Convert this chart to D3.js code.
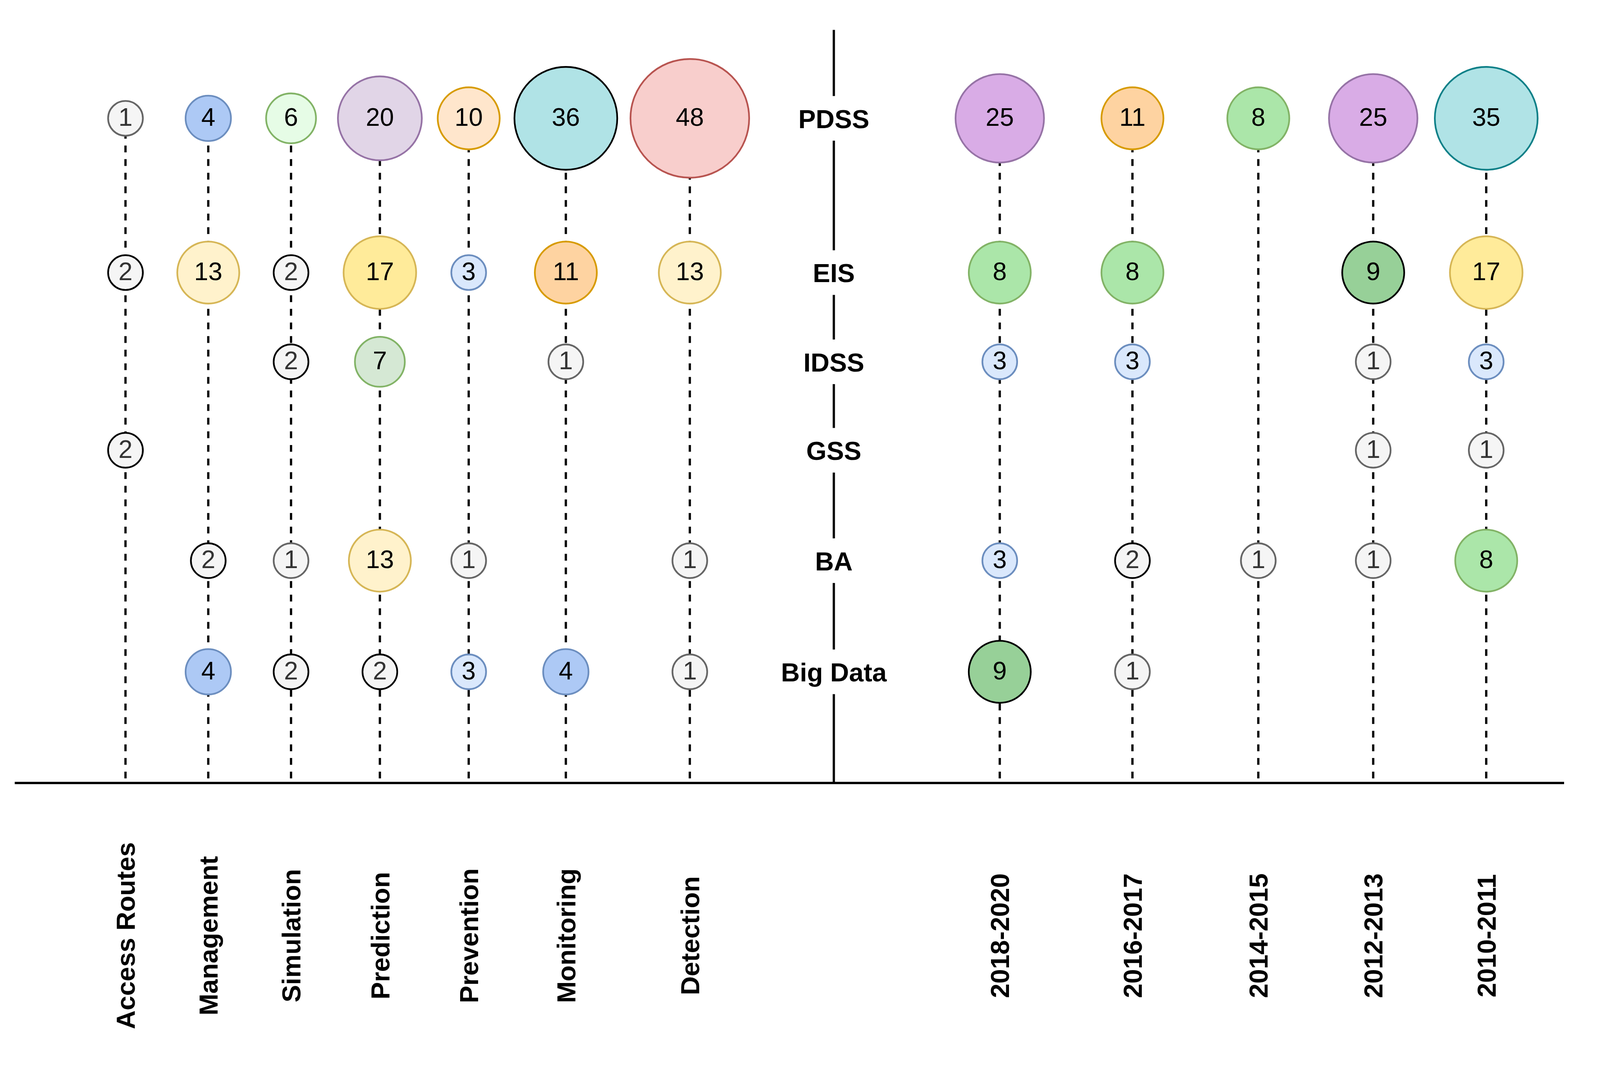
<!DOCTYPE html>
<html>
<head>
<meta charset="utf-8">
<title>DSS types by application area and period</title>
<script src="https://cdn.jsdelivr.net/npm/d3@7/dist/d3.min.js"></script>
<style>
    html, body { margin: 0; padding: 0; background: #ffffff; overflow: hidden; }
    svg { display: block; }
    .stem { stroke: #000; stroke-width: 6; stroke-dasharray: 18, 18; fill: none; }
    .axisLine { stroke: #000; stroke-width: 6; }
    .count { font-family: "Liberation Sans", Arial, sans-serif; font-size: 67px; text-anchor: middle; }
    .systemLabel { font-family: "Liberation Sans", Arial, sans-serif; font-size: 69px; font-weight: bold; text-anchor: middle; }
    .columnLabel { font-family: "Liberation Sans", Arial, sans-serif; font-size: 69px; font-weight: bold; text-anchor: middle; }
</style>
</head>
<body>
<script>
//chart data (null = no studies)
var areas = ["Access Routes", "Management", "Simulation", "Prediction", "Prevention", "Monitoring", "Detection"];
var periods = ["2018-2020", "2016-2017", "2014-2015", "2012-2013", "2010-2011"];
var systems = ["PDSS", "EIS", "IDSS", "GSS", "BA", "Big Data"];

//counts per area, in the order of systems
var areaCounts = [
    [1, 2, null, 2, null, null],    //Access Routes
    [4, 13, null, null, 2, 4],      //Management
    [6, 2, 2, null, 1, 2],          //Simulation
    [20, 17, 7, null, 13, 2],       //Prediction
    [10, 3, null, null, 1, 3],      //Prevention
    [36, 11, 1, null, null, 4],     //Monitoring
    [48, 13, null, null, 1, 1]      //Detection
];

//counts per period, in the order of systems
var periodCounts = [
    [25, 8, 3, null, 3, 9],         //2018-2020
    [11, 8, 3, null, 2, 1],         //2016-2017
    [8, null, null, null, 1, null], //2014-2015
    [25, 9, 1, 1, 1, null],         //2012-2013
    [35, 17, 3, 1, 8, null]         //2010-2011
];

//colour key of every bubble (same shape as the count tables)
var areaStyles = [
    ["gray", "grayDark", null, "grayDark", null, null],
    ["blue", "cream", null, null, "grayDark", "blue"],
    ["mint", "grayDark", "grayDark", null, "gray", "grayDark"],
    ["lavender", "yellow", "sage", null, "cream", "grayDark"],
    ["peach", "lightBlue", null, null, "gray", "lightBlue"],
    ["tealDark", "orange", "gray", null, null, "blue"],
    ["red", "cream", null, null, "gray", "gray"]
];
var periodStyles = [
    ["purple", "green", "lightBlue", null, "lightBlue", "darkGreen"],
    ["orange", "green", "lightBlue", null, "grayDark", "gray"],
    ["green", null, null, null, "gray", null],
    ["purple", "darkGreen", "gray", "gray", "gray", null],
    ["teal", "yellow", "lightBlue", "gray", "green", null]
];

(function () {

    //pseudo-global variables
    var width = 4233,
        height = 2777;

    //palette of fill / stroke / text colours
    var palette = {
        gray:      { fill: "#f5f5f5", stroke: "#666666", text: "#333333" },
        grayDark:  { fill: "#f5f5f5", stroke: "#000000", text: "#333333" },
        blue:      { fill: "#adc9f5", stroke: "#6c8ebf", text: "#000000" },
        lightBlue: { fill: "#dae8fc", stroke: "#6c8ebf", text: "#000000" },
        mint:      { fill: "#e6fce6", stroke: "#82b366", text: "#000000" },
        sage:      { fill: "#d5e8d4", stroke: "#82b366", text: "#000000" },
        green:     { fill: "#abe6a9", stroke: "#82b366", text: "#000000" },
        darkGreen: { fill: "#97d098", stroke: "#000000", text: "#000000" },
        lavender:  { fill: "#e1d5e7", stroke: "#9673a6", text: "#000000" },
        purple:    { fill: "#d9ace6", stroke: "#9673a6", text: "#000000" },
        peach:     { fill: "#ffe6cc", stroke: "#d79b00", text: "#000000" },
        orange:    { fill: "#fed3a1", stroke: "#d79b00", text: "#000000" },
        cream:     { fill: "#fff2cc", stroke: "#d6b656", text: "#000000" },
        yellow:    { fill: "#ffeb9a", stroke: "#d6b656", text: "#000000" },
        tealDark:  { fill: "#b0e3e6", stroke: "#000000", text: "#000000" },
        teal:      { fill: "#b0e3e6", stroke: "#0e8088", text: "#000000" },
        red:       { fill: "#f8cecc", stroke: "#b85450", text: "#000000" }
    };

    //hand placed layout of the diagram
    var areaX = [332, 551, 770, 1005, 1240, 1497, 1825],
        periodX = [2645, 2996, 3329, 3633, 3932],
        systemY = [313, 721, 957, 1191, 1483, 1777],
        centerX = 2206,
        topY = 79,
        baseY = 2071,
        baseLeft = 39,
        baseRight = 4138,
        labelY = 2475;

    window.onload = setChart();

    function setChart() {

        //svg container, scaled to the window width and pinned to the top
        var svg = d3.select("body")
            .append("svg")
            .attr("viewBox", "0 0 " + width + " " + height)
            .attr("preserveAspectRatio", "xMidYMin meet")
            .style("width", "100vw")
            .style("height", "100vh")
            .style("background", "#ffffff");

        //scales: columns, rows and bubble size classes
        var xScale = d3.scaleOrdinal()
            .domain(areas.concat(periods))
            .range(areaX.concat(periodX));

        var yScale = d3.scaleOrdinal()
            .domain(systems)
            .range(systemY);

        var rScale = d3.scaleThreshold()
            .domain([4, 6, 8, 17, 20, 25, 35, 48])
            .range([46, 60, 66, 82, 96, 111, 117, 136, 157]);

        //build one record per column and one per bubble
        var columns = [];
        areas.forEach(function (name, i) {
            columns.push({ name: name, counts: areaCounts[i], styles: areaStyles[i] });
        });
        periods.forEach(function (name, i) {
            columns.push({ name: name, counts: periodCounts[i], styles: periodStyles[i] });
        });

        var bubbles = [];
        columns.forEach(function (col) {
            col.counts.forEach(function (v, j) {
                if (v !== null) {
                    bubbles.push({ column: col.name, system: systems[j], value: v, style: palette[col.styles[j]] });
                }
            });
            //first system with a bubble = top of the dashed stem
            col.first = systems[col.counts.findIndex(function (v) { return v !== null; })];
        });

        //dashed stems
        svg.selectAll(".stem")
            .data(columns)
            .enter()
            .append("line")
            .attr("class", "stem")
            .attr("x1", function (d) { return xScale(d.name); })
            .attr("x2", function (d) { return xScale(d.name); })
            .attr("y1", function (d) { return yScale(d.first); })
            .attr("y2", baseY);

        //horizontal base line
        svg.append("line")
            .attr("class", "axisLine")
            .attr("x1", baseLeft)
            .attr("x2", baseRight)
            .attr("y1", baseY)
            .attr("y2", baseY);

        //central vertical line
        svg.append("line")
            .attr("class", "axisLine")
            .attr("x1", centerX)
            .attr("x2", centerX)
            .attr("y1", topY)
            .attr("y2", baseY);

        //system labels on the central line, with white gap behind
        var sysGroups = svg.selectAll(".system")
            .data(systems)
            .enter()
            .append("g")
            .attr("class", "system")
            .attr("transform", function (d) { return "translate(" + centerX + "," + yScale(d) + ")"; });

        var sysRects = sysGroups.append("rect").attr("fill", "#ffffff");

        var sysTexts = sysGroups.append("text")
            .attr("class", "systemLabel")
            .attr("dy", "0.37em")
            .text(function (d) { return d; });

        sysTexts.each(function (d, i) {
            var w = this.getBBox().width + 16;
            d3.select(sysRects.nodes()[i])
                .attr("x", -w / 2)
                .attr("y", -59)
                .attr("width", w)
                .attr("height", 118);
        });

        //bubbles
        var bubble = svg.selectAll(".bubble")
            .data(bubbles)
            .enter()
            .append("g")
            .attr("class", "bubble")
            .attr("transform", function (d) {
                return "translate(" + xScale(d.column) + "," + yScale(d.system) + ")";
            });

        bubble.append("circle")
            .attr("r", function (d) { return rScale(d.value); })
            .style("fill", function (d) { return d.style.fill; })
            .style("stroke", function (d) { return d.style.stroke; })
            .style("stroke-width", 4.5);

        bubble.append("text")
            .attr("class", "count")
            .attr("dy", "0.3em")
            .style("fill", function (d) { return d.style.text; })
            .text(function (d) { return d.value; });

        //rotated column labels under the base line
        svg.selectAll(".columnLabel")
            .data(columns)
            .enter()
            .append("text")
            .attr("class", "columnLabel")
            .attr("transform", function (d) {
                return "translate(" + xScale(d.name) + "," + labelY + ") rotate(-90)";
            })
            .attr("dy", "0.36em")
            .text(function (d) { return d.name; });
    };

})();
</script>
</body>
</html>
